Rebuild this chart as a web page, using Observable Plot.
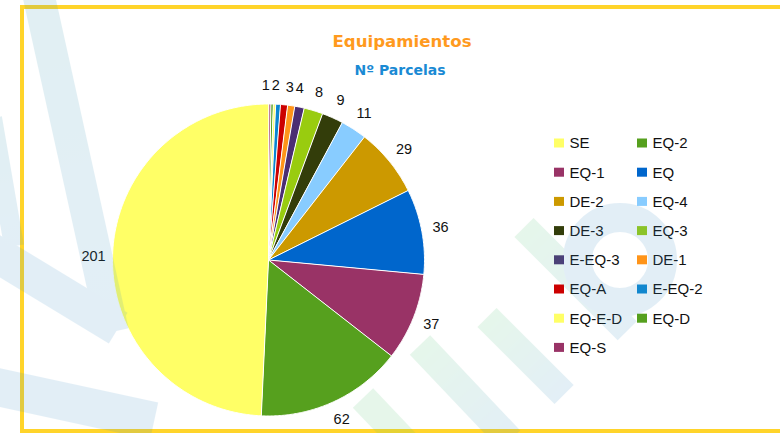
<!DOCTYPE html>
<html>
<head>
<meta charset="utf-8">
<script src="https://cdn.jsdelivr.net/npm/d3@7"></script>
<script src="https://cdn.jsdelivr.net/npm/@observablehq/plot@0.6"></script>
<style>
  body { margin: 0; background: #fff; }
  #wrap { position: relative; width: 780px; height: 433px; overflow: hidden; font-family: "Liberation Sans", Arial, sans-serif; }
  #wm { position: absolute; left: 0; top: 0; width: 780px; height: 433px; opacity: 0.14; z-index: 5; pointer-events: none; }
  #wm div { position: absolute; }
  #frame { position: absolute; left: 20px; top: 5px; width: 800px; height: 420px; border: 4px solid #FFD42A; border-right: none; z-index: 3; pointer-events: none; }
  #head { position: relative; height: 76px; z-index: 2; }
  #t1 { position: absolute; left: 0; width: 804px; top: 34px; text-align: center; font: bold 16.6px/16.6px "DejaVu Sans", sans-serif; color: #FF9A1E; }
  #t2 { position: absolute; left: 0; width: 800px; top: 62.5px; text-align: center; font: bold 14px/14px "DejaVu Sans", sans-serif; color: #1A8AD4; }
  #chart { position: relative; z-index: 2; }
</style>
</head>
<body>
<div id="wrap">
  <div id="head"><div id="t1"></div><div id="t2"></div></div>
  <div id="chart"></div>
  <div id="frame"></div>
  <div id="wm"></div>
</div>
<script>
const title = "Equipamientos";
const subtitle = "Nº Parcelas";
const categories = ["SE", "EQ-2", "EQ-1", "EQ", "DE-2", "EQ-4", "DE-3", "EQ-3", "E-EQ-3", "DE-1", "EQ-A", "E-EQ-2", "EQ-E-D", "EQ-D", "EQ-S"];
const values = [201, 62, 37, 36, 29, 11, 9, 8, 4, 3, 3, 2, 1, 1, 1];
const colors = ["#FFFF66", "#56A01E", "#993366", "#0066CC", "#CC9900", "#88CCFF", "#333D0A", "#99CC0F", "#4B2E73", "#FF9419", "#CC0000", "#0A86D0", "#FFFF66", "#56A01E", "#993366"];

document.getElementById("t1").textContent = title;
document.getElementById("t2").textContent = subtitle;

// faint background logo (decoration only)
const wmBands = [
  [37, -12, 113, 332, 32, "#3195AC", "#3D90C7"],
  [-22, 243, 118, 328, 36, "#3D90C7", "#3D90C7"],
  [-8, 118, 14, 246, 20, "#3195AC", "#3D90C7"],
  [-12, 385, 154, 421, 38, "#3D90C7", "#3D90C7"],
  [363, 398, 420, 458, 28, "#53C774", "#53C774"],
  [420, 345, 510, 440, 28, "#53C774", "#3D90C7"],
  [487, 317, 564, 394, 27, "#53C774", "#3D90C7"],
  [524, 227, 627, 330, 27, "#53C774", "#3D90C7"]
];
const wm = document.getElementById("wm");
wmBands.forEach(([x1, y1, x2, y2, w, c1, c2]) => {
  const d = document.createElement("div");
  const len = Math.hypot(x2 - x1, y2 - y1), ang = Math.atan2(y2 - y1, x2 - x1) * 180 / Math.PI;
  Object.assign(d.style, {left: x1 + "px", top: (y1 - w / 2) + "px", width: len + "px", height: w + "px",
    transformOrigin: "0 50%", transform: `rotate(${ang}deg)`, background: `linear-gradient(to right, ${c1}, ${c2})`});
  wm.appendChild(d);
});
const ring = document.createElement("div");
Object.assign(ring.style, {left: "563px", top: "203px", width: "114px", height: "114px", boxSizing: "border-box",
  border: "29px solid #3D90C7", borderRadius: "50%"});
wm.appendChild(ring);

const W = 780, H = 433 - 76;
const cx = 268, cy = 259.5 - 76, r = 156, lr = 175;
const total = d3.sum(values);

// slices run clockwise from 12 o'clock, last category first
const order = d3.range(categories.length).reverse();
let acc = 0;
const slices = order.map(i => {
  const a0 = acc / total * 2 * Math.PI;
  acc += values[i];
  const a1 = acc / total * 2 * Math.PI;
  return {cat: categories[i], value: values[i], a0, a1};
});

const poly = slices.flatMap(s => {
  const n = Math.max(2, Math.ceil((s.a1 - s.a0) / (Math.PI / 360)));
  const pts = [{cat: s.cat, x: cx, y: cy}];
  for (let k = 0; k <= n; k++) {
    const a = s.a0 + (s.a1 - s.a0) * k / n;
    pts.push({cat: s.cat, x: cx + r * Math.sin(a), y: cy - r * Math.cos(a)});
  }
  return pts;
});

const labels = slices.map(s => {
  const a = (s.a0 + s.a1) / 2;
  const x = cx + lr * Math.sin(a);
  return {cat: s.cat, text: String(s.value), x, rx: x, y: cy - lr * Math.cos(a), show: true, crowded: false};
});
// crowd control for the thin slices near the top: identical labels merge, others step left
for (let k = labels.length - 2; k >= 0; k--) {
  const a = labels[k], b = labels[k + 1];
  if (Math.abs(a.y - b.y) < 12 && b.x - a.x < 10) {
    a.crowded = b.crowded = true;
    if (a.text === b.text) { a.x = b.x; a.y = b.y; a.show = false; }
    else { a.x = b.x - 10; }
  }
}
// re-centre the crowded group on its slices
const crowd = labels.filter(d => d.crowded);
if (crowd.length) {
  const shift = d3.mean(crowd, d => d.rx) - (d3.min(crowd, d => d.x) + d3.max(crowd, d => d.x)) / 2;
  crowd.forEach(d => { d.x += shift; });
}
const shownLabels = labels.filter(d => d.show);

const legend = categories.map((c, i) => {
  const col = i % 2, row = Math.floor(i / 2);
  const yc = 67 + row * 29.2;
  const x1 = 554 + col * 83;
  return {cat: c, x1, x2: x1 + 10, y1: yc - 4.5, y2: yc + 4.5, tx: x1 + 15, ty: yc};
});

const chart = Plot.plot({
  width: W,
  height: H,
  margin: 0,
  x: {domain: [0, W], range: [0, W], axis: null},
  y: {domain: [0, H], range: [0, H], axis: null},
  color: {domain: categories, range: colors},
  style: {background: "transparent", fontFamily: "'Liberation Sans', Arial, sans-serif"},
  marks: [
    Plot.line(poly, {x: "x", y: "y", z: "cat", fill: "cat", stroke: "white", strokeWidth: 1, curve: "linear-closed"}),
    Plot.text(shownLabels, {x: "x", y: "y", text: "text", fontSize: 14.5, fill: "#111"}),
    Plot.rect(legend, {x1: "x1", x2: "x2", y1: "y1", y2: "y2", fill: "cat"}),
    Plot.text(legend, {x: "tx", y: "ty", text: "cat", textAnchor: "start", fontSize: 15, fill: "#111"})
  ]
});
document.getElementById("chart").appendChild(chart);
</script>
</body>
</html>
